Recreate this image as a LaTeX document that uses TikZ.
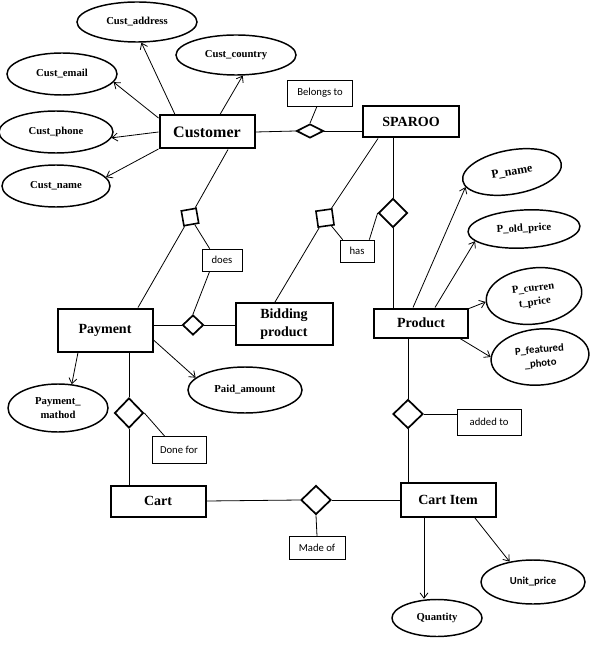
\documentclass[tikz,border=0pt]{standalone}
\usepackage{fontspec}
\setmainfont{Liberation Serif}
\newfontfamily\calibri{Carlito}
\usetikzlibrary{shapes.geometric,calc,arrows.meta}
\tikzset{
  sz/.style 2 args={minimum width=#1*0.75pt, minimum height=#2*0.75pt},
  ent/.style={draw, line width=1.5pt, inner sep=0pt, align=center, font=\fontsize{10.5}{13}\selectfont\bfseries},
  attr/.style={ellipse, draw, line width=1.1pt, inner sep=0pt, align=center, font=\fontsize{8}{10.5}\selectfont\bfseries},
  attrs/.style={attr, font=\calibri\fontsize{8}{10.5}\selectfont\bfseries},
  lbl/.style={draw, line width=0.5pt, inner sep=0pt, font=\calibri\fontsize{8}{10}\selectfont},
  rel/.style={diamond, draw, line width=1.3pt, inner sep=0pt},
  sq/.style={rectangle, draw, line width=1.2pt, inner sep=0pt},
  conn/.style={line width=0.6pt},
  arr/.style={conn, -{Straight Barb[length=4pt,width=6pt]}}
}
\begin{document}
\begin{tikzpicture}[x=0.75pt,y=-0.75pt]
\useasboundingbox (0,0) rectangle (591,645);
% entities
\node[ent, sz={95}{33}, font=\fontsize{12}{14}\selectfont\bfseries] (cust) at (207,132) {Customer};
\node[ent, sz={96}{31}] (sparoo) at (411,122) {SPAROO};
\node[ent, sz={95}{43}] (payment) at (105,330) {Payment};
\node[ent, sz={97}{42}] (bidding) at (284,324) {Bidding\\product};
\node[ent, sz={94}{29}] (product) at (421,323) {Product};
\node[ent, sz={95}{31}] (cart) at (158,501) {Cart};
\node[ent, sz={95}{34}] (cartitem) at (448,500) {Cart Item};
% labels
\node[lbl, sz={65}{26}] (belongs) at (320,93) {Belongs to};
\node[lbl, sz={40}{22}] (does) at (222,260) {does};
\node[lbl, sz={34}{22}] (has) at (357,251) {has};
\node[lbl, sz={64}{26}] (addedto) at (489,422) {added to};
\node[lbl, sz={54}{27}] (donefor) at (179,450) {Done for};
\node[lbl, sz={56}{23}] (madeof) at (317,548) {Made of};
% relationships
\node[rel, sz={27}{14}] (d1) at (310,131) {};
\node[rel, sz={29}{29}] (d2) at (393,213) {};
\node[rel, sz={21}{20}] (d3) at (193,325) {};
\node[rel, sz={29}{30}] (d4) at (129,413) {};
\node[rel, sz={30}{29}] (d5) at (408,414) {};
\node[rel, sz={30}{29}] (d6) at (316,500) {};
\node[sq, sz={15}{15}, rotate=10] (s1) at (190,217) {};
\node[sq, sz={16}{16}, rotate=8] (s2) at (325,218) {};
% attributes
\node[attr, sz={120}{40}] (addr) at (137,22) {Cust\_address};
\node[attr, sz={120}{40}] (country) at (236,55) {Cust\_country};
\node[attr, sz={110}{42}] (email) at (62,74) {Cust\_email};
\node[attr, sz={114}{42}] (phone) at (56,132) {Cust\_phone};
\node[attr, sz={108}{42}] (name) at (56,186) {Cust\_name};
\node[attr, sz={100}{44}, rotate=10, font=\fontsize{9}{11}\selectfont\bfseries] (pname) at (512,172) {P\_name};
\node[attr, sz={112}{38}, rotate=3] (poldprice) at (524,229) {P\_old\_price};
\node[attr, sz={96}{56}, rotate=7] (pcurrent) at (534,296) {P\_curren\\t\_price};
\node[attrs, sz={98}{56}, rotate=5] (pfeat) at (540,357) {P\_featured\\\_photo};
\node[attr, sz={100}{48}] (paymethod) at (58,408) {Payment\_\\mathod};
\node[attr, sz={114}{46}] (paid) at (245,390) {Paid\_amount};
\node[attr, sz={90}{37}] (quantity) at (437,618) {Quantity};
\node[attrs, sz={104}{44}] (unitprice) at (533,582) {Unit\_price};
% customer attributes
\draw[arr] ($(cust.north)+(-32,0)$) -- (addr.282);
\draw[arr] ($(cust.north)+(13,0)$) -- (country.288);
\draw[arr] ($(cust.west)+(0,-14)$) -- (email.351);
\draw[arr] (cust.west) -- (phone.354);
\draw[arr] ($(cust.west)+(0,17)$) -- (name.10);
% customer - sparoo
\draw[conn] (cust.east) -- (d1.west);
\draw[conn] (d1.east) -- (d1.east -| sparoo.west);
\draw[conn] ($(belongs.south)+(-3,0)$) -- (d1.north);
% sparoo - bidding / product
\draw[conn] ($(sparoo.south)+(-33,0)$) -- (s2);
\draw[conn] (s2) -- ($(bidding.north)+(-9,0)$);
\draw[conn] (s2) -- ($(has.north west)+(3,0)$);
\draw[conn] (d2.north |- sparoo.south) -- (d2.north);
\draw[conn] (d2.south) -- (d2.south |- product.north);
\draw[conn] (d2.west) -- ($(has.north east)+(-5,0)$);
% product attributes
\draw[arr] ($(product.north)+(-8,0)$) -- (pname.188);
\draw[arr] ($(product.north)+(14,0)$) -- (poldprice.191);
\draw[arr] ($(product.north east)+(0,1)$) -- (pcurrent.180);
\draw[arr] ($(product.south east)+(-9,0)$) -- (pfeat.175);
% product - cart item
\draw[conn] (d5.north |- product.south) -- (d5.north);
\draw[conn] (d5.east) -- (d5.east -| addedto.west);
\draw[conn] (d5.south) -- (d5.south |- cartitem.north);
% cart item attributes
\coordinate (ci1) at ($(cartitem.south)+(-24,0)$);
\draw[arr] (ci1) -- (ci1 |- quantity.north);
\draw[arr] ($(cartitem.south)+(27,0)$) -- (unitprice.139);
% cart - cart item
\draw[conn] (cart.east) -- (d6.west);
\draw[conn] (d6.east) -- (cartitem.west);
\draw[conn] (d6.south) -- (madeof.north);
% payment - cart
\coordinate (ca1) at ($(cart.north)+(-29,0)$);
\draw[conn] (ca1) -- (d4.south);
\draw[conn] (d4.north) -- (d4.north |- payment.south);
\draw[conn] (d4.east) -- ($(donefor.north west)+(13,0)$);
% payment attributes
\draw[arr] ($(payment.south)+(-27,0)$) -- (paymethod.60);
\draw[arr] ($(payment.east)+(0,10)$) -- (paid.166);
% payment - customer / bidding
\draw[conn] ($(payment.north)+(33,0)$) -- (s1);
\draw[conn] (s1) -- ($(cust.south)+(21,0)$);
\draw[conn] (s1) -- ($(does.north west)+(8,0)$);
\draw[conn] ($(does.south west)+(8,0)$) -- (d3.north);
\draw[conn] (d3.west) -- (d3.west -| payment.east);
\draw[conn] (d3.east) -- (d3.east -| bidding.west);
\end{tikzpicture}
\end{document}
